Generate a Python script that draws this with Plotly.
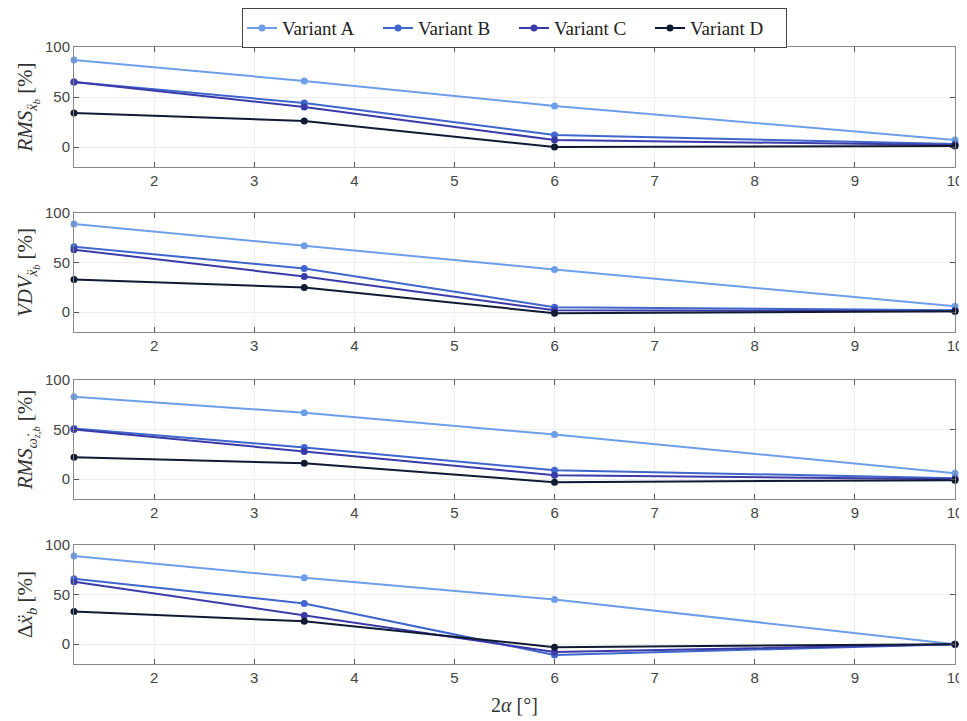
import plotly.graph_objects as go
from plotly.subplots import make_subplots

x_vals = [1.2, 3.5, 6, 10]
series_names = ["Variant A", "Variant B", "Variant C", "Variant D"]

# panel 1: RMS of x''_b
rms_x_A = [87, 66, 41, 7]
rms_x_B = [65, 44, 12, 3]
rms_x_C = [65, 40, 7, 2]
rms_x_D = [34, 26, 0, 1]

# panel 2: VDV of x''_b
vdv_x_A = [89, 67, 43, 6]
vdv_x_B = [66, 44, 5, 2]
vdv_x_C = [63, 36, 2, 1]
vdv_x_D = [33, 25, -1, 1]

# panel 3: RMS of omega-dot
rms_w_A = [83, 67, 45, 6]
rms_w_B = [51, 32, 9, 1]
rms_w_C = [50, 28, 4, 0]
rms_w_D = [22, 16, -3, -1]

# panel 4: delta x''_b
dx_A = [89, 67, 45, 0]
dx_B = [66, 41, -11, 0]
dx_C = [63, 29, -8, 0]
dx_D = [33, 23, -3, 0]

panels = [
    [rms_x_A, rms_x_B, rms_x_C, rms_x_D],
    [vdv_x_A, vdv_x_B, vdv_x_C, vdv_x_D],
    [rms_w_A, rms_w_B, rms_w_C, rms_w_D],
    [dx_A, dx_B, dx_C, dx_D],
]
y_titles = [
    "<i>RMS</i><sub><i>ẍ<sub>b</sub></i></sub> [%]",
    "<i>VDV</i><sub><i>ẍ<sub>b</sub></i></sub> [%]",
    "<i>RMS</i><sub><i>ω̇<sub>z,b</sub></i></sub> [%]",
    "Δ<i>ẍ</i><sub><i>b</i></sub> [%]",
]
x_ticks = [2, 3, 4, 5, 6, 7, 8, 9, 10]
y_ticks = [0, 50, 100]

colors = ["#6f9ee8", "#3f66cc", "#3a3aa8", "#111a33"]

fig = make_subplots(rows=4, cols=1, shared_xaxes=False)

domains = [(0.8055, 1.0), (0.538, 0.731), (0.2674, 0.4603), (0.0, 0.1929)]

for p, data in enumerate(panels):
    for s, (name, ys) in enumerate(zip(series_names, data)):
        fig.add_trace(
            go.Scatter(
                x=x_vals, y=ys, mode="lines+markers", name=name,
                line=dict(color=colors[s], width=2),
                marker=dict(color=colors[s], size=7),
                showlegend=(p == 0), legendgroup=name,
                cliponaxis=False,
            ),
            row=p + 1, col=1,
        )

tick_font = dict(family="Liberation Sans", size=15, color="#444")
title_font = dict(family="Liberation Serif", size=21, color="#333")

for p in range(4):
    ax = dict(
        range=[1.2, 10], tickvals=x_ticks, ticks="inside", ticklen=5,
        showline=True, mirror="ticks", linecolor="#888", linewidth=1,
        tickcolor="#555", showgrid=True, gridcolor="#eeeeee", zeroline=False,
        tickfont=tick_font, domain=[0, 1],
    )
    ay = dict(
        range=[-20, 100], tickvals=y_ticks, ticks="inside", ticklen=5,
        showline=True, mirror="ticks", linecolor="#888", linewidth=1,
        tickcolor="#555", showgrid=True, gridcolor="#eeeeee", zeroline=False,
        tickfont=tick_font, domain=list(domains[p]),
        title=dict(text=y_titles[p], font=title_font, standoff=6),
    )
    if p == 3:
        ax["title"] = dict(text="2<i>α</i> [°]", font=dict(family="Liberation Serif", size=20, color="#333"), standoff=12)
    fig.update_xaxes(ax, row=p + 1, col=1)
    fig.update_yaxes(ay, row=p + 1, col=1)

fig.update_layout(
    width=959, height=713,
    margin=dict(l=66, r=12, t=39, b=57, autoexpand=False),
    paper_bgcolor="white", plot_bgcolor="white",
    legend=dict(
        orientation="h", x=0.5, xanchor="center", y=1.063, yanchor="top",
        bordercolor="#444", borderwidth=1, bgcolor="white",
        font=dict(family="Liberation Serif", size=19, color="#222"),
        itemwidth=30, tracegroupgap=0,
        entrywidth=91, entrywidthmode="pixels",
    ),
)

fig.write_html("out.html")
